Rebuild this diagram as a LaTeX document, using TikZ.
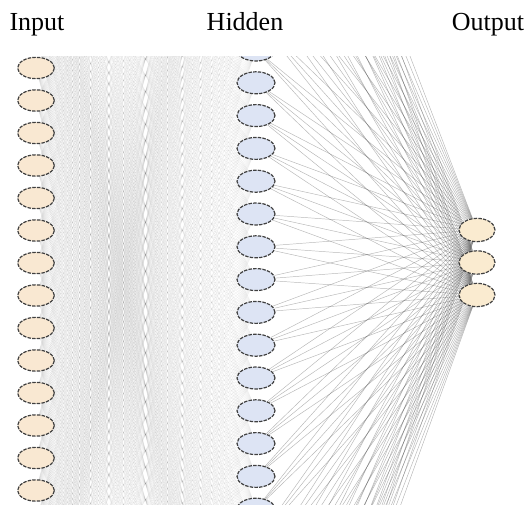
\documentclass[tikz,border=0pt]{standalone}
\usepackage{fontspec}
\setmainfont{Liberation Serif}
\usetikzlibrary{shapes.geometric,backgrounds}
\definecolor{inbeige}{HTML}{F9E8D2}
\definecolor{hidblue}{HTML}{DDE4F4}
\definecolor{outbeige}{HTML}{FAEBD0}
\begin{document}
\begin{tikzpicture}[x=0.75pt, y=-0.75pt,
    neuron/.style={ellipse, draw=black!75, line width=0.9pt, dash pattern=on 2.6pt off 0.9pt, inner sep=0pt},
    innode/.style={neuron, fill=inbeige, minimum width=27.5pt, minimum height=16pt},
    hidnode/.style={neuron, fill=hidblue, minimum width=28.5pt, minimum height=16.5pt},
    outnode/.style={neuron, fill=outbeige, minimum width=27pt, minimum height=17.5pt},
    weakedge/.style={draw=black!50, line width=0.35pt, opacity=0.1},
    edge/.style={draw=black!70, line width=0.35pt, opacity=0.4},
    layername/.style={anchor=base, inner sep=0pt, font=\fontsize{19.5}{22}\selectfont}]
    \useasboundingbox (0,0) rectangle (527,505);
    \node[layername] (inlabel) at (37,31) {Input};
    \node[layername] (hidlabel) at (245,31) {Hidden};
    \node[layername] (outlabel) at (488,31) {Output};
    \begin{scope}
        \clip (0,57) rectangle (527,505);
        \foreach \k in {1,...,26}{
            \pgfmathsetmacro\yy{68+32.5*(\k-7)}
            \ifnum\k<7 \coordinate (i\k) at (36,\yy);
            \else\ifnum\k>20 \coordinate (i\k) at (36,\yy);
            \else \node[innode] (i\k) at (36,\yy) {};
            \fi\fi
        }
        \foreach \k in {1,...,39}{
            \pgfmathsetmacro\yy{50+32.8*(\k-13)}
            \ifnum\k<13 \coordinate (h\k) at (256,\yy);
            \else\ifnum\k>27 \coordinate (h\k) at (256,\yy);
            \else \node[hidnode] (h\k) at (256,\yy) {};
            \fi\fi
        }
        \foreach \k in {1,2,3}
            \node[outnode] (o\k) at (477,230+32.5*\k-32.5) {};
    \end{scope}
    \begin{pgfonlayer}{background}
        \clip (0,57) rectangle (527,505);
        \foreach \a in {1,...,26}
            \foreach \b in {1,...,39}
                \draw[weakedge] (i\a) -- (h\b);
        \foreach \b in {1,...,39}
            \foreach \c in {1,2,3}
                \draw[edge] (h\b) -- (o\c);
    \end{pgfonlayer}
\end{tikzpicture}
\end{document}
